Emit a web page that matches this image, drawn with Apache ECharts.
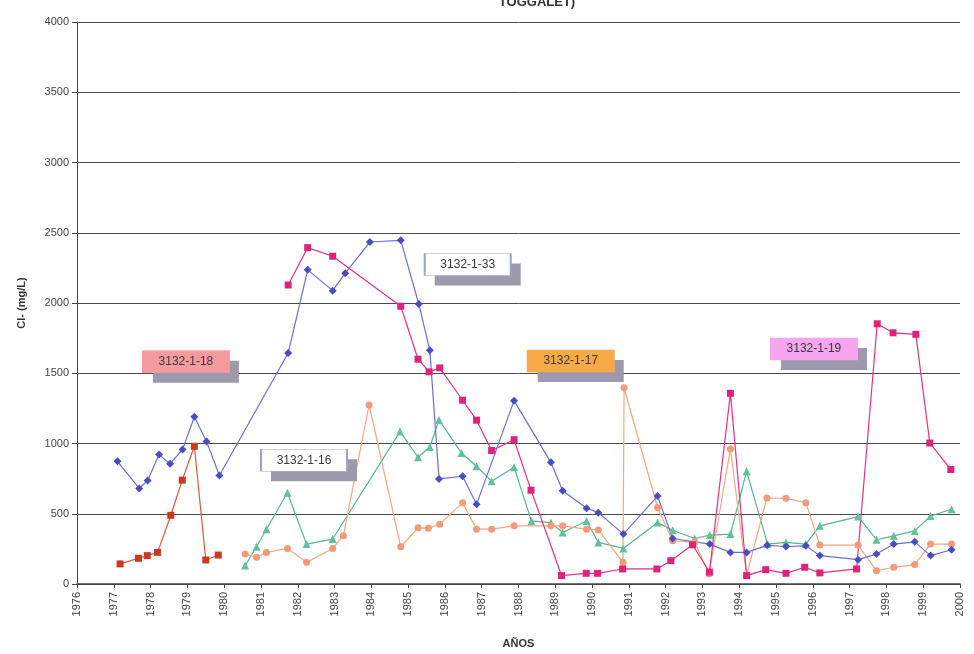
<!doctype html>
<html>
<head>
<meta charset="utf-8">
<title>Cl- (mg/L) pozos 3132</title>
<script src="https://cdn.jsdelivr.net/npm/echarts@6/dist/echarts.min.js"></script>
<style>
  html, body { margin: 0; padding: 0; background: #fff; }
  #chart { width: 974px; height: 654px; }
</style>
</head>
<body>
<div id="chart"></div>
<script>
// pozo 3132-1-33 (azul)
var w33Years = [1977.10, 1977.69, 1977.92, 1978.23, 1978.53, 1978.87, 1979.19, 1979.52, 1979.87,
  1981.74, 1982.27, 1982.95, 1983.29, 1983.96, 1984.80, 1985.29, 1985.59, 1985.84, 1986.48, 1986.86,
  1987.88, 1988.88, 1989.20, 1989.85, 1990.17, 1990.85, 1991.78, 1992.19, 1993.20, 1993.76, 1994.20,
  1994.76, 1995.27, 1995.81, 1996.19, 1997.23, 1997.73, 1998.20, 1998.77, 1999.20, 1999.77];
var w33Cl = [873, 680, 737, 921, 855, 958, 1190, 1015, 772,
  1644, 2236, 2088, 2212, 2434, 2446, 1993, 1663, 748, 767, 567,
  1305, 866, 664, 539, 508, 355, 626, 324, 284, 225, 225,
  275, 267, 272, 202, 173, 213, 284, 300, 202, 244];

// pozo 3132-1-18 (rojo)
var w18Years = [1977.17, 1977.67, 1977.91, 1978.19, 1978.55, 1978.86, 1979.19, 1979.50, 1979.84];
var w18Cl = [143, 183, 202, 225, 489, 739, 980, 171, 206];

// pozo 3132-1-16 (verde)
var w16Years = [1980.57, 1980.88, 1981.15, 1981.72, 1982.24, 1982.95, 1984.78, 1985.27, 1985.59,
  1985.84, 1986.45, 1986.86, 1987.27, 1987.88, 1988.35, 1988.88, 1989.20, 1989.85, 1990.17, 1990.85,
  1991.78, 1992.19, 1992.79, 1993.20, 1993.76, 1994.20, 1994.77, 1995.27, 1995.81, 1996.19, 1997.23,
  1997.73, 1998.20, 1998.77, 1999.20, 1999.77];
var w16Cl = [131, 265, 390, 649, 284, 320, 1085, 902, 975,
  1168, 932, 838, 732, 831, 449, 437, 366, 449, 296, 253,
  437, 383, 324, 348, 355, 803, 284, 296, 284, 414, 480,
  315, 343, 378, 484, 532];

// pozo 3132-1-17 (naranja)
var w17Years = [1980.57, 1980.88, 1981.15, 1981.72, 1982.24, 1982.95, 1983.24, 1983.94, 1984.80,
  1985.27, 1985.55, 1985.86, 1986.48, 1986.86, 1987.27, 1987.88, 1988.88, 1989.20, 1989.85, 1990.17,
  1990.84, 1990.87, 1991.78, 1992.19, 1992.79, 1993.18, 1993.76, 1994.20, 1994.75, 1995.27, 1995.81,
  1996.19, 1997.23, 1997.73, 1998.20, 1998.77, 1999.20, 1999.77];
var w17Cl = [213, 190, 225, 253, 154, 253, 343, 1274, 265,
  400, 397, 426, 579, 390, 390, 414, 414, 414, 390, 385,
  154, 1397, 543, 308, 296, 72, 961, 62, 612, 610, 579,
  277, 277, 95, 119, 138, 284, 284];

// pozo 3132-1-19 (rosa)
var w19Years = [1981.74, 1982.27, 1982.95, 1984.80, 1985.27, 1985.57, 1985.86, 1986.48, 1986.86,
  1987.27, 1987.88, 1988.34, 1989.17, 1989.84, 1990.15, 1990.83, 1991.76, 1992.14, 1992.73, 1993.19,
  1993.76, 1994.20, 1994.72, 1995.27, 1995.78, 1996.19, 1997.19, 1997.75, 1998.18, 1998.80, 1999.18,
  1999.75];
var w19Cl = [2128, 2394, 2333, 1977, 1600, 1510, 1538, 1308, 1166,
  950, 1027, 668, 60, 76, 76, 107, 107, 166, 279, 85,
  1357, 60, 102, 76, 119, 79, 107, 1852, 1788, 1777, 1003,
  815];

// etiquetas de los pozos: nombre, año, valor, fondo
var tagNames = ['3132-1-18', '3132-1-33', '3132-1-17', '3132-1-19', '3132-1-16'];
var tagYears = [1978.96, 1986.62, 1989.42, 1996.03, 1982.17];
var tagValues = [1581, 2274, 1588, 1673, 881];
var tagColors = ['#f59a9e', '#ffffff', '#f8a948', '#f6a6ee', '#ffffff'];

var yearTicks = [1976, 2000];

function pares(xs, ys) {
  var out = [];
  for (var i = 0; i < xs.length; i++) {
    out.push([xs[i], ys[i]]);
  }
  return out;
}

function serie(nombre, xs, ys, linea, punto, simbolo, tam) {
  return {
    name: nombre,
    type: 'line',
    data: pares(xs, ys),
    symbol: simbolo,
    symbolSize: tam,
    showAllSymbol: true,
    lineStyle: { color: linea, width: 1.2 },
    itemStyle: { color: punto, borderColor: punto, borderWidth: 0 },
    z: 3
  };
}

function sinComas(v) {
  return String(v);
}

var chart = echarts.init(document.getElementById('chart'), null, { renderer: 'canvas' });

var series = [
  serie('3132-1-18', w18Years, w18Cl, '#d8583a', '#c93a1e', 'rect', 7),
  serie('3132-1-16', w16Years, w16Cl, '#55b692', '#62c09a', 'triangle', 8),
  serie('3132-1-17', w17Years, w17Cl, '#f5a77e', '#f39a78', 'circle', 7),
  serie('3132-1-33', w33Years, w33Cl, '#6b6fd8', '#4a4cc2', 'diamond', 8),
  serie('3132-1-19', w19Years, w19Cl, '#e0337f', '#e0237a', 'rect', 7)
];

// recuadros de los nombres de pozo: primero la sombra gris, luego el recuadro
var shadowData = [];
var tagData = [];
for (var i = 0; i < tagNames.length; i++) {
  shadowData.push({
    coord: [tagYears[i], tagValues[i]],
    value: '',
    symbolOffset: [10, 10],
    itemStyle: { color: '#9d9aae' },
    label: { show: false }
  });
  tagData.push({
    coord: [tagYears[i], tagValues[i]],
    value: tagNames[i],
    itemStyle: {
      color: tagColors[i],
      borderColor: tagColors[i] == '#ffffff' ? '#9aa4c8' : tagColors[i],
      borderWidth: 1
    }
  });
}
series.push({
  type: 'scatter',
  data: [],
  markPoint: {
    symbol: 'rect',
    symbolSize: [86, 22],
    silent: true,
    label: { show: false },
    data: shadowData
  },
  z: 9
});
series.push({
  type: 'scatter',
  data: [],
  markPoint: {
    symbol: 'rect',
    symbolSize: [86, 22],
    silent: true,
    label: {
      show: true,
      position: 'inside',
      formatter: '{c}',
      color: '#3a3a3a',
      fontFamily: 'Liberation Sans, Arial',
      fontSize: 12
    },
    data: tagData
  },
  z: 10
});

chart.setOption({
  animation: false,
  backgroundColor: '#ffffff',
  title: {
    text: 'TOGGALET)',
    left: 532,
    top: -9,
    textAlign: 'center',
    textStyle: { fontSize: 13, fontWeight: 'bold', color: '#333', fontFamily: 'Liberation Sans, Arial' }
  },
  grid: { left: 77, right: 14, top: 22, bottom: 65 },
  xAxis: {
    type: 'value',
    min: yearTicks[0],
    max: yearTicks[1],
    interval: 1,
    name: 'AÑOS',
    nameLocation: 'middle',
    nameGap: 54,
    nameTextStyle: { fontSize: 11, fontWeight: 'bold', color: '#333', fontFamily: 'Liberation Sans, Arial' },
    axisLine: { show: true, onZero: false, lineStyle: { color: '#444', width: 1.5 } },
    axisTick: { show: true, length: 4, lineStyle: { color: '#444' } },
    axisLabel: {
      rotate: 90,
      margin: 8,
      color: '#444',
      fontSize: 11,
      fontFamily: 'Liberation Sans, Arial',
      formatter: sinComas
    },
    splitLine: { show: false }
  },
  yAxis: {
    type: 'value',
    min: 0,
    max: 4000,
    interval: 500,
    name: 'Cl- (mg/L)',
    nameLocation: 'middle',
    nameGap: 50,
    nameTextStyle: { fontSize: 11, fontWeight: 'bold', color: '#333', fontFamily: 'Liberation Sans, Arial' },
    axisLine: { show: true, lineStyle: { color: '#444', width: 1 } },
    axisTick: { show: true, length: 5, lineStyle: { color: '#444' } },
    axisLabel: { margin: 8, color: '#444', fontSize: 11, fontFamily: 'Liberation Sans, Arial', formatter: sinComas },
    splitLine: { show: true, lineStyle: { color: '#4a4a4a', width: 1 } }
  },
  series: series
});
</script>
</body>
</html>
